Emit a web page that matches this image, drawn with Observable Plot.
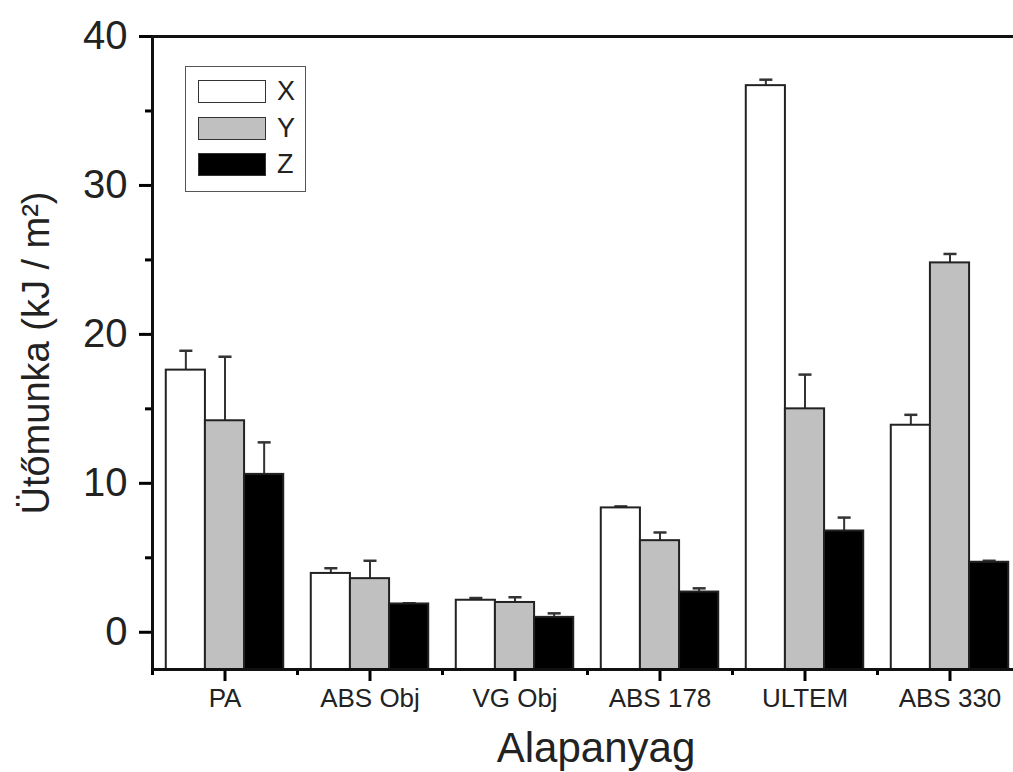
<!DOCTYPE html>
<html>
<head>
<meta charset="utf-8">
<script src="https://cdn.jsdelivr.net/npm/d3@7"></script>
<script src="https://cdn.jsdelivr.net/npm/@observablehq/plot@0.6"></script>
<style>
  body { margin: 0; background: #fff; }
  #wrap { position: relative; width: 1013px; height: 772px; font-family: "Liberation Sans", Arial, sans-serif; }
  #wrap svg { font-family: "Liberation Sans", Arial, sans-serif; }
  g[aria-label="y-axis tick label"] text { font-size: 40px; }
  g[aria-label="x-axis tick label"] text { font-size: 26px; }
  g[aria-label="y-axis label"] text { font-size: 38px; }
  g[aria-label="x-axis label"] text { font-size: 42px; }
  #legend { position: absolute; left: 185px; top: 66px; width: 119px; height: 124px; border: 1.5px solid #555; background: #fff; }
  .row { position: absolute; left: 12px; height: 23px; display: flex; align-items: center; }
  .sw { width: 66px; height: 21px; border: 1.5px solid #333; }
  .lb { margin-left: 11px; font-size: 27px; color: #222; line-height: 23px; }
</style>
</head>
<body>
<div id="wrap"></div>
<script>
const categories = ["PA", "ABS Obj", "VG Obj", "ABS 178", "ULTEM", "ABS 330"];
const series = ["X", "Y", "Z"];
const seriesColors = ["#ffffff", "#c0c0c0", "#000000"];
const xValues = [17.6, 3.95, 2.15, 8.35, 36.7, 13.9];
const yValues = [14.2, 3.6, 2.0, 6.15, 15.0, 24.8];
const zValues = [10.6, 1.9, 1.0, 2.7, 6.8, 4.7];
const xErr = [1.3, 0.35, 0.15, 0.1, 0.4, 0.7];
const yErr = [4.3, 1.2, 0.35, 0.55, 2.3, 0.6];
const zErr = [2.15, 0.05, 0.27, 0.25, 0.9, 0.1];
const yTicks = [0, 10, 20, 30, 40];
const yMinorTicks = [5, 15, 25, 35];

const yMin = -2.5, yMax = 40;
const barW = 0.27;
const allValues = [xValues, yValues, zValues];
const allErr = [xErr, yErr, zErr];

const data = [];
categories.forEach((c, i) => {
  series.forEach((s, j) => {
    const center = (i + 1) + (j - 1) * barW;
    data.push({category: c, series: s, value: allValues[j][i], err: allErr[j][i],
      x1: center - barW / 2, x2: center + barW / 2, xc: center});
  });
});

const W = 1013, H = 772, mL = 152, mR = 0, mT = 36, mB = 103;
const pxPerGroup = 145;
const xDomain = [0.5, 0.5 + (W - mL - mR) / pxPerGroup];
const groupTicks = categories.map((c, i) => i + 1);
const groupMinor = categories.map((c, i) => i + 0.5);

const chart = Plot.plot({
  width: W, height: H,
  marginLeft: mL, marginRight: mR, marginTop: mT, marginBottom: mB,
  x: {domain: xDomain},
  y: {domain: [yMin, yMax]},
  color: {domain: series, range: seriesColors},
  marks: [
    Plot.ruleX(data, {x: "xc", y1: "value", y2: d => d.value + d.err, stroke: "#333", strokeWidth: 2}),
    Plot.link(data, {x1: d => d.xc - 0.045, x2: d => d.xc + 0.045, y1: d => d.value + d.err, y2: d => d.value + d.err, stroke: "#333", strokeWidth: 2.5}),
    Plot.rect(data, {x1: "x1", x2: "x2", y1: yMin, y2: "value", fill: "series", stroke: "#222", strokeWidth: 2}),
    Plot.axisY(yTicks, {tickSize: 13, tickPadding: 12, strokeWidth: 3, fill: "#222",
      label: "Ütőmunka (kJ / m²)", labelAnchor: "center", labelArrow: "none", labelOffset: 130}),
    Plot.axisY(yMinorTicks, {tickSize: 7, strokeWidth: 3, tickFormat: () => "", label: null}),
    Plot.axisX(groupTicks, {tickSize: 12, tickPadding: 7, strokeWidth: 3, fill: "#222",
      tickFormat: d => categories[d - 1],
      label: "Alapanyag", labelAnchor: "center", labelArrow: "none", labelOffset: 92}),
    Plot.axisX(groupMinor, {tickSize: 6, strokeWidth: 3, tickFormat: () => "", label: null}),
    Plot.ruleX([xDomain[0]], {stroke: "#111", strokeWidth: 3}),
    Plot.ruleY([yMin], {stroke: "#111", strokeWidth: 3}),
    Plot.ruleY([yMax], {stroke: "#111", strokeWidth: 3})
  ]
});

const xl = d3.select(chart).select('g[aria-label="x-axis label"]');
if (!xl.empty()) xl.attr("transform", (xl.attr("transform") || "") + " translate(13,0)");

const wrap = document.getElementById("wrap");
wrap.appendChild(chart);

const legend = document.createElement("div");
legend.id = "legend";
series.forEach((s, j) => {
  const row = document.createElement("div");
  row.className = "row";
  row.style.top = (13 + j * 36.5) + "px";
  const sw = document.createElement("div");
  sw.className = "sw";
  sw.style.background = seriesColors[j];
  const lb = document.createElement("span");
  lb.className = "lb";
  lb.textContent = s;
  row.appendChild(sw);
  row.appendChild(lb);
  legend.appendChild(row);
});
wrap.appendChild(legend);
</script>
</body>
</html>
